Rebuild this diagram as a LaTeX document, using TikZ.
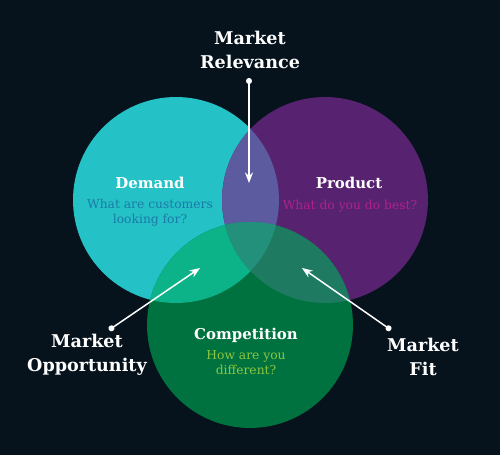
\documentclass[tikz,border=0pt]{standalone}
\usepackage{fontspec}
\setmainfont{DejaVu Serif}
\usepackage{xcolor}
\usetikzlibrary{arrows.meta}
\definecolor{night}{HTML}{07131C}
\definecolor{aqua}{HTML}{24C1C6}
\definecolor{plum}{HTML}{57226F}
\definecolor{forest}{HTML}{007240}
\definecolor{aquaplum}{HTML}{5D5BA0}
\definecolor{aquaforest}{HTML}{0DB388}
\definecolor{plumforest}{HTML}{1F7A62}
\definecolor{core}{HTML}{22907A}
\definecolor{qblue}{HTML}{1B7AA8}
\definecolor{qpink}{HTML}{B0218F}
\definecolor{qlime}{HTML}{8CC63F}
\tikzset{
  disc/.style={circle,minimum size=4.12cm,inner sep=0pt,fill=#1},
  title/.style={font=\bfseries\fontsize{8.5}{10}\selectfont,text=white,align=center,inner sep=0pt},
  ask/.style={font=\fontsize{7}{8.5}\selectfont,align=center,inner sep=0pt},
  callout/.style={font=\bfseries\fontsize{10}{13.6}\selectfont,text=white,align=center,inner sep=0pt},
  pointer/.style={draw=white,line width=0.85pt,{Circle[length=3.4pt]}-{Stealth[length=6pt,width=4.6pt]}},
}
\newcommand{\venndisc}[1]{(#1.center) circle[radius=2.06cm]}

\begin{document}
\begin{tikzpicture}[x=0.02cm,y=-0.02cm]
    \fill[night] (0,0) rectangle (500,455);
    % the three circles
    \node[disc=aqua] (demand) at (176,200) {};
    \node[disc=plum] (product) at (325,200) {};
    \node[disc=forest] (competition) at (250,325) {};
    % overlaps
    \begin{scope}
      \clip \venndisc{demand};
      \fill[aquaplum] \venndisc{product};
      \fill[aquaforest] \venndisc{competition};
    \end{scope}
    \begin{scope}
      \clip \venndisc{product};
      \fill[plumforest] \venndisc{competition};
    \end{scope}
    \begin{scope}
      \clip \venndisc{demand};
      \clip \venndisc{product};
      \fill[core] \venndisc{competition};
    \end{scope}
    % texts inside
    \node[title] (demandT) at (150,183) {Demand};
    \node[ask,text=qblue] (demandQ) at (150,213) {What are customers\\looking for?};
    \node[title] (productT) at (349,183) {Product};
    \node[ask,text=qpink] (productQ) at (350,206) {What do you do best?};
    \node[title] (competitionT) at (246,335) {Competition};
    \node[ask,text=qlime] (competitionQ) at (246,363) {How are you\\different?};
    % callouts
    \node[callout] (relevance) at (250,50) {Market\\Relevance};
    \node[callout] (opportunity) at (87,355) {Market\\Opportunity};
    \node[callout] (fit) at (423,357) {Market\\Fit};
    \coordinate (relevanceDot) at (249,78);
    \coordinate (relevanceTip) at (249,183);
    \coordinate (opportunityDot) at (109,330);
    \coordinate (opportunityTip) at (200,268);
    \coordinate (fitDot) at (391,330);
    \coordinate (fitTip) at (302,268);
    \draw[pointer] (relevanceDot) -- (relevanceTip);
    \draw[pointer] (opportunityDot) -- (opportunityTip);
    \draw[pointer] (fitDot) -- (fitTip);
\end{tikzpicture}
\end{document}
